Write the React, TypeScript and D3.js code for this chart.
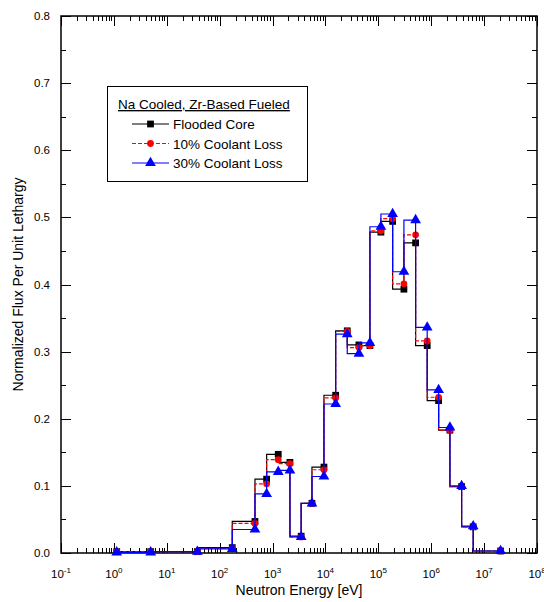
import React, { useEffect, useRef } from 'react';
import * as d3 from 'd3';

// group upper edges [eV] where each marker sits
const energies = [1.13, 4.97, 37.8, 173, 465, 773, 1281, 2131, 3474, 5559, 9371, 15600, 25830, 42960, 69340, 111900, 186200, 304600, 506800, 839800, 1.38e6, 2.256e6, 3.755e6, 6.22e6, 2.05e7];
const flooded = [0.002, 0.002, 0.002, 0.008, 0.047, 0.110, 0.147, 0.135, 0.025, 0.074, 0.128, 0.235, 0.331, 0.310, 0.309, 0.478, 0.494, 0.393, 0.462, 0.309, 0.227, 0.183, 0.099, 0.039, 0.003];
const loss10 = [0.002, 0.002, 0.002, 0.007, 0.044, 0.103, 0.139, 0.133, 0.024, 0.074, 0.124, 0.231, 0.330, 0.306, 0.309, 0.480, 0.498, 0.401, 0.474, 0.316, 0.232, 0.183, 0.099, 0.039, 0.003];
const loss30 = [0.001, 0.001, 0.002, 0.006, 0.035, 0.088, 0.121, 0.123, 0.024, 0.074, 0.114, 0.222, 0.326, 0.297, 0.313, 0.486, 0.505, 0.419, 0.496, 0.336, 0.243, 0.187, 0.100, 0.040, 0.003];

const seriesNames = ['Flooded Core', '10% Coolant Loss', '30% Coolant Loss'];
const legendTitle = 'Na Cooled, Zr-Based Fueled';
const yTicks = [0, 0.1, 0.2, 0.3, 0.4, 0.5, 0.6, 0.7, 0.8];
const xExponents = [-1, 0, 1, 2, 3, 4, 5, 6, 7, 8];

const App = () => {
  const ref = useRef<SVGSVGElement>(null);

  useEffect(() => {
    const svg = d3.select(ref.current);
    const width = 544;
    const height = 602;
    const left = 61, right = 537, top = 16, bottom = 553;
    const font = '"Liberation Sans", Arial, sans-serif';

    svg.attr('width', width).attr('height', height);

    const x = d3.scaleLog().domain([0.1, 1e8]).range([left, right]);
    const y = d3.scaleLinear().domain([0, 0.8]).range([bottom, top]);

    const g = svg.append('g');

    // ticks (inward on all four sides)
    const ticks = g.append('g').attr('stroke', '#000').attr('stroke-width', 1);
    d3.range(0, 0.8001, 0.05).forEach((v, i) => {
      const len = i % 2 === 0 ? 10 : 5;
      const yy = Math.round(y(v)) + 0.5;
      ticks.append('line').attr('x1', left).attr('x2', left + len).attr('y1', yy).attr('y2', yy);
      ticks.append('line').attr('x1', right).attr('x2', right - len).attr('y1', yy).attr('y2', yy);
    });
    xExponents.forEach((e) => {
      for (let m = 1; m <= 9; m++) {
        const v = m * Math.pow(10, e);
        if (v > 1e8) break;
        const len = m === 1 ? 10 : 5;
        const xx = Math.round(x(v)) + 0.5;
        ticks.append('line').attr('x1', xx).attr('x2', xx).attr('y1', bottom).attr('y2', bottom - len);
        ticks.append('line').attr('x1', xx).attr('x2', xx).attr('y1', top).attr('y2', top + len);
      }
    });

    // frame
    g.append('rect')
      .attr('x', left).attr('y', top)
      .attr('width', right - left).attr('height', bottom - top)
      .attr('fill', 'none').attr('stroke', '#000').attr('stroke-width', 1.5);

    // y tick labels
    g.append('g').selectAll('text').data(yTicks).join('text')
      .attr('x', 50).attr('y', (d) => y(d) + 4)
      .attr('text-anchor', 'end')
      .attr('font-family', font).attr('font-size', 11.5)
      .text((d) => d.toFixed(1));

    // x tick labels
    const xl = g.append('g').selectAll('text').data(xExponents).join('text')
      .attr('x', (d) => x(Math.pow(10, d)))
      .attr('y', 578)
      .attr('text-anchor', 'middle')
      .attr('font-family', font).attr('font-size', 11.5);
    xl.append('tspan').text('10');
    xl.append('tspan').attr('dy', -5).attr('font-size', 8).text((d) => String(d));

    // axis titles
    g.append('text')
      .attr('x', (left + right) / 2).attr('y', 595)
      .attr('text-anchor', 'middle')
      .attr('font-family', font).attr('font-size', 14)
      .text('Neutron Energy [eV]');
    g.append('text')
      .attr('transform', `translate(23,${(top + bottom) / 2}) rotate(-90)`)
      .attr('text-anchor', 'middle')
      .attr('font-family', font).attr('font-size', 14)
      .text('Normalized Flux Per Unit Lethargy');

    const series = [
      { name: seriesNames[0], values: flooded, color: '#000', dash: null, marker: 'square' },
      { name: seriesNames[1], values: loss10, color: '#ff0000', dash: '4,2', marker: 'circle' },
      { name: seriesNames[2], values: loss30, color: '#0000ff', dash: null, marker: 'triangle' },
    ];

    const symbols: Record<string, d3.SymbolType> = {
      square: d3.symbolSquare,
      circle: d3.symbolCircle,
      triangle: d3.symbolTriangle,
    };
    const sizes: Record<string, number> = { square: 46, circle: 36, triangle: 50 };

    const line = d3.line<number>()
      .x((_, i) => x(energies[i]))
      .y((d) => y(d))
      .curve(d3.curveStepBefore);

    series.forEach((s) => {
      g.append('path')
        .datum(s.values)
        .attr('d', line)
        .attr('fill', 'none')
        .attr('stroke', s.color)
        .attr('stroke-width', 1.2)
        .attr('stroke-dasharray', s.dash);
      g.append('g').selectAll('path').data(s.values).join('path')
        .attr('transform', (d, i) => `translate(${x(energies[i])},${y(d)})`)
        .attr('d', d3.symbol().type(symbols[s.marker]).size(sizes[s.marker])())
        .attr('fill', s.color);
    });

    // legend
    const lg = g.append('g');
    lg.append('rect')
      .attr('x', 107.5).attr('y', 86.5).attr('width', 200).attr('height', 95)
      .attr('fill', '#fff').attr('stroke', '#000').attr('stroke-width', 1);
    lg.append('text')
      .attr('x', 118).attr('y', 109)
      .attr('font-family', font).attr('font-size', 13.5)
      .attr('text-decoration', 'underline')
      .text(legendTitle);
    series.forEach((s, i) => {
      const yy = 124 + i * 19.5;
      lg.append('line')
        .attr('x1', 132).attr('x2', 169).attr('y1', yy).attr('y2', yy)
        .attr('stroke', s.color).attr('stroke-width', 1.2)
        .attr('stroke-dasharray', s.dash);
      lg.append('path')
        .attr('transform', `translate(150.5,${yy})`)
        .attr('d', d3.symbol().type(symbols[s.marker]).size(sizes[s.marker])())
        .attr('fill', s.color);
      lg.append('text')
        .attr('x', 173).attr('y', yy + 5)
        .attr('font-family', font).attr('font-size', 13.5)
        .text(s.name);
    });

    return () => {
      svg.selectAll('*').remove();
    };
  }, []);

  return <svg ref={ref} style={{ position: 'absolute', left: 0, top: 0 }}></svg>;
};

export default App;
